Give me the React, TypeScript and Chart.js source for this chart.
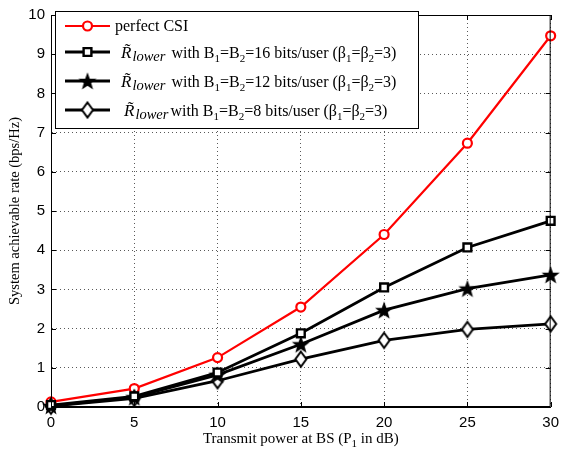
import React, { useEffect, useRef } from 'react';
import { Chart, registerables } from 'chart.js';
Chart.register(...registerables);

const xValues = [0, 5, 10, 15, 20, 25, 30];
const perfectCSI = [0.13, 0.47, 1.26, 2.55, 4.4, 6.73, 9.47];
const bits16 = [0.05, 0.27, 0.88, 1.88, 3.05, 4.07, 4.75];
const bits12 = [0.03, 0.25, 0.82, 1.6, 2.47, 3.02, 3.37];
const bits8 = [0.02, 0.22, 0.67, 1.22, 1.7, 1.98, 2.12];
const legendBits = ['16', '12', '8'];
const xTitle = 'Transmit power at BS (P';
const yTitle = 'System achievable rate (bps/Hz)';

const SERIF = '"Liberation Serif", "Times New Roman", serif';
const SANS = '"Liberation Sans", Arial, sans-serif';

type Seg = { t: string; size: number; dy?: number; italic?: boolean; dx?: number };

function drawRich(ctx: CanvasRenderingContext2D, x: number, y: number, segs: Seg[]) {
  let cx = x;
  ctx.textBaseline = 'alphabetic';
  ctx.textAlign = 'left';
  for (const s of segs) {
    ctx.font = `${s.italic ? 'italic ' : ''}${s.size}px ${SERIF}`;
    cx += s.dx || 0;
    ctx.fillText(s.t, cx, y + (s.dy || 0));
    cx += ctx.measureText(s.t).width;
  }
  return cx - x;
}

function makeStar(): HTMLCanvasElement {
  const c = document.createElement('canvas');
  c.width = 20;
  c.height = 20;
  const g = c.getContext('2d')!;
  g.fillStyle = '#000';
  g.beginPath();
  for (let i = 0; i < 10; i++) {
    const r = i % 2 === 0 ? 9.5 : 3.9;
    const a = -Math.PI / 2 + (i * Math.PI) / 5;
    const px = 10 + r * Math.cos(a);
    const py = 10.8 + r * Math.sin(a);
    if (i === 0) g.moveTo(px, py);
    else g.lineTo(px, py);
  }
  g.closePath();
  g.fill();
  return c;
}

function makeDiamond(): HTMLCanvasElement {
  const c = document.createElement('canvas');
  c.width = 16;
  c.height = 20;
  const g = c.getContext('2d')!;
  g.fillStyle = '#fff';
  g.strokeStyle = '#000';
  g.lineWidth = 2;
  g.beginPath();
  g.moveTo(8, 2.5);
  g.lineTo(13.5, 10);
  g.lineTo(8, 17.5);
  g.lineTo(2.5, 10);
  g.closePath();
  g.fill();
  g.stroke();
  return c;
}

function drawMarker(ctx: CanvasRenderingContext2D, style: any, r: number, x: number, y: number) {
  if (style instanceof HTMLCanvasElement) {
    ctx.drawImage(style, x - style.width / 2, y - style.height / 2);
    return;
  }
  ctx.beginPath();
  if (style === 'circle') {
    ctx.arc(x, y, r, 0, Math.PI * 2);
  } else if (style === 'rect') {
    const s = r * Math.SQRT1_2 * 2;
    ctx.rect(x - s / 2, y - s / 2, s, s);
  }
  ctx.fill();
  ctx.stroke();
}

export default function App() {
  const ref = useRef<HTMLCanvasElement | null>(null);
  useEffect(() => {
    const star = makeStar();
    const diamond = makeDiamond();
    const series = [
      { label: 'perfect', data: perfectCSI, color: '#ff0000', style: 'circle' as any, radius: 4.5, bw: 2.2, lw: 2.2, order: 4 },
      { label: '16', data: bits16, color: '#000', style: 'rect' as any, radius: 5.5, bw: 2.4, lw: 2.8, order: 1 },
      { label: '12', data: bits12, color: '#000', style: star as any, radius: 6, bw: 1, lw: 2.8, order: 2 },
      { label: '8', data: bits8, color: '#000', style: diamond as any, radius: 6, bw: 2, lw: 2.8, order: 3 },
    ];

    const framePlugin = {
      id: 'frame',
      afterDraw(chart: any) {
        const ctx = chart.ctx as CanvasRenderingContext2D;
        const a = chart.chartArea;
        const xs = chart.scales.x;
        const ys = chart.scales.y;
        ctx.save();
        ctx.strokeStyle = '#000';
        ctx.lineWidth = 1;
        ctx.strokeRect(a.left + 0.5, a.top + 0.5, a.right - a.left - 1, a.bottom - a.top - 1);
        ctx.beginPath();
        for (const v of xValues) {
          const px = Math.round(xs.getPixelForValue(v)) + 0.5;
          ctx.moveTo(px, a.bottom);
          ctx.lineTo(px, a.bottom - 5);
          ctx.moveTo(px, a.top);
          ctx.lineTo(px, a.top + 5);
        }
        for (let v = 0; v <= 10; v++) {
          const py = Math.round(ys.getPixelForValue(v)) + 0.5;
          ctx.moveTo(a.left, py);
          ctx.lineTo(a.left + 5, py);
          ctx.moveTo(a.right, py);
          ctx.lineTo(a.right - 5, py);
        }
        ctx.stroke();

        // x title
        ctx.fillStyle = '#000';
        const xsegs: Seg[] = [{ t: xTitle, size: 15 }, { t: '1', size: 11, dy: 4 }, { t: ' in dB)', size: 15 }];
        let total = 0;
        for (const s of xsegs) {
          ctx.font = `${s.size}px ${SERIF}`;
          total += ctx.measureText(s.t).width;
        }
        const cxm = (a.left + a.right) / 2;
        drawRich(ctx, cxm - total / 2, 443, xsegs);

        // y title
        ctx.save();
        ctx.translate(19, (a.top + a.bottom) / 2);
        ctx.rotate(-Math.PI / 2);
        ctx.font = `14.5px ${SERIF}`;
        ctx.textAlign = 'center';
        ctx.textBaseline = 'alphabetic';
        ctx.fillText(yTitle, 0, 0);
        ctx.restore();

        // legend
        const L = 55, T = 11, R = 418, B = 128;
        ctx.fillStyle = '#fff';
        ctx.fillRect(L, T, R - L, B - T);
        ctx.strokeStyle = '#000';
        ctx.lineWidth = 1;
        ctx.strokeRect(L + 0.5, T + 0.5, R - L, B - T);
        const rows = [26, 52, 81, 110];
        series.forEach((s, i) => {
          const y = rows[i];
          ctx.strokeStyle = s.color;
          ctx.lineWidth = s.lw;
          ctx.beginPath();
          ctx.moveTo(65, y);
          ctx.lineTo(110, y);
          ctx.stroke();
          ctx.fillStyle = '#fff';
          ctx.strokeStyle = s.color;
          ctx.lineWidth = s.bw;
          drawMarker(ctx, s.style, s.radius, 87.5, y);
          ctx.fillStyle = '#000';
          const base = y + 5;
          if (i === 0) {
            drawRich(ctx, 115, base, [{ t: 'perfect CSI', size: 16 }]);
          } else {
            const b = legendBits[i - 1];
            drawRich(ctx, i === 3 ? 124 : 121, base + 1, [
              { t: 'R\u0303', italic: true, size: 17 },
              { t: 'lower', italic: true, size: 14.5, dy: 3, dx: 1 },
              { t: i === 3 ? 'with B' : ' with B', size: 16, dx: 2 },
              { t: '1', size: 11, dy: 4 },
              { t: '=B', size: 16 },
              { t: '2', size: 11, dy: 4 },
              { t: `=${b} bits/user (\u03b2`, size: 16 },
              { t: '1', size: 11, dy: 4 },
              { t: '=\u03b2', size: 16 },
              { t: '2', size: 11, dy: 4 },
              { t: '=3)', size: 16 },
            ]);
          }
        });
        ctx.restore();
      },
    };

    const chart = new Chart(ref.current!, {
      type: 'line',
      data: {
        datasets: series.map((s) => ({
          label: s.label,
          data: s.data.map((v, i) => ({ x: xValues[i], y: v })),
          borderColor: s.color,
          backgroundColor: '#fff',
          borderWidth: s.lw,
          pointStyle: s.style,
          pointRadius: s.radius,
          pointBorderWidth: s.bw,
          pointBackgroundColor: '#fff',
          pointBorderColor: s.color,
          tension: 0,
          order: s.order,
          clip: false as any,
        })),
      },
      options: {
        animation: false,
        responsive: false,
        maintainAspectRatio: false,
        layout: { padding: { top: 9, right: 9, left: 0, bottom: 0 } },
        plugins: { legend: { display: false }, tooltip: { enabled: false } },
        scales: {
          x: {
            type: 'linear',
            min: 0,
            max: 30,
            afterFit: (s: any) => { s.height = 47; },
            afterBuildTicks: (s: any) => { s.ticks = xValues.map((v) => ({ value: v })); },
            ticks: { color: '#000', font: { family: SANS, size: 15 }, padding: 7, maxRotation: 0 },
            grid: { color: 'rgba(0,0,0,0.65)', lineWidth: 1, drawTicks: false },
            border: { display: true, color: '#000', dash: [1, 3] },
          },
          y: {
            min: 0,
            max: 10,
            afterFit: (s: any) => { s.width = 51; },
            ticks: { stepSize: 1, color: '#000', font: { family: SANS, size: 15 }, padding: 6 },
            grid: { color: 'rgba(0,0,0,0.65)', lineWidth: 1, drawTicks: false },
            border: { display: true, color: '#000', dash: [1, 3] },
          },
        },
      },
      plugins: [framePlugin],
    });
    return () => chart.destroy();
  }, []);
  return (
    <div style={{ position: 'fixed', left: 0, top: 0, width: 566, height: 454, background: '#fff' }}>
      <canvas ref={ref} width={566} height={454} style={{ width: 566, height: 454, display: 'block' }} />
    </div>
  );
}
